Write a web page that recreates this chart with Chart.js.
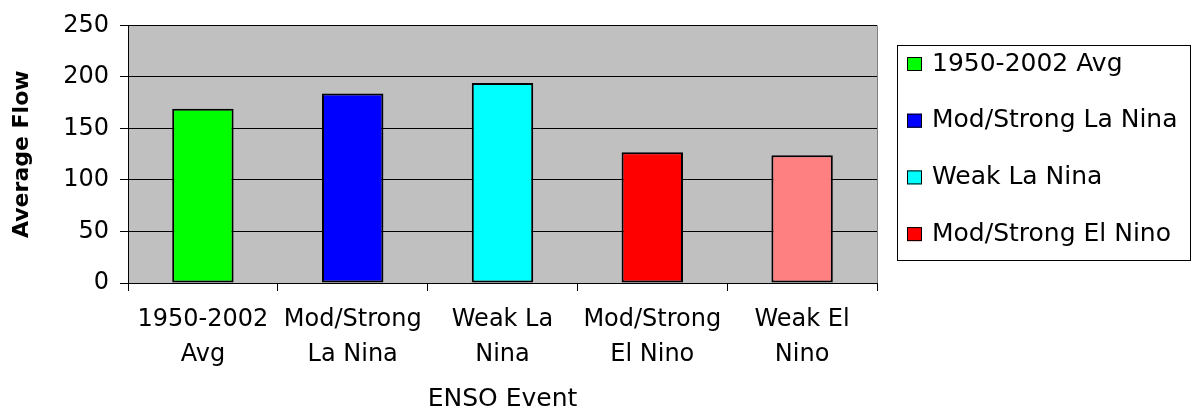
<!DOCTYPE html>
<html>
<head>
<meta charset="utf-8">
<script src="https://cdn.jsdelivr.net/npm/chart.js@4.4.0/dist/chart.umd.min.js"></script>
<style>
  html, body { margin: 0; padding: 0; background: #fff; }
  #wrap { width: 1192px; height: 412px; }
</style>
</head>
<body>
<div id="wrap"><canvas id="g_enso"></canvas></div>
<script>
// categorias e valores
const categories = [
  ['1950-2002', 'Avg'],
  ['Mod/Strong', 'La Nina'],
  ['Weak La', 'Nina'],
  ['Mod/Strong', 'El Nino'],
  ['Weak El', 'Nino']
];
const legendNames = ['1950-2002 Avg', 'Mod/Strong La Nina', 'Weak La Nina', 'Mod/Strong El Nino', 'Weak El Nino'];
const flows = [169, 184, 194, 127, 124];
const barColors = ['#00ff00', '#0000ff', '#00ffff', '#ff0000', '#ff8080'];
const yTicks = [0, 50, 100, 150, 200, 250];

const FONT = "'DejaVu Sans', sans-serif";

// fundo cinza da área do gráfico
const plotBg = {
  id: 'plotBg',
  beforeDraw(chart) {
    const { ctx, chartArea: a } = chart;
    ctx.save();
    ctx.fillStyle = '#c0c0c0';
    ctx.fillRect(a.left, a.top, a.right - a.left, a.bottom - a.top);
    ctx.strokeStyle = '#808080';
    ctx.lineWidth = 1;
    ctx.beginPath();
    ctx.moveTo(a.right + 0.5, a.top);
    ctx.lineTo(a.right + 0.5, a.bottom);
    ctx.stroke();
    ctx.restore();
  }
};

// legenda com caixa (estilo Excel), cortada na borda da caixa
const boxLegend = {
  id: 'boxLegend',
  afterDraw(chart) {
    const ctx = chart.ctx;
    const x = 897, y = 45, w = 293, h = 215;
    ctx.save();
    ctx.fillStyle = '#fff';
    ctx.fillRect(x, y, w, h);
    ctx.strokeStyle = '#000';
    ctx.lineWidth = 1;
    ctx.strokeRect(x + 0.5, y + 0.5, w, h);
    ctx.beginPath();
    ctx.rect(x + 1, y + 1, w - 1, h - 1);
    ctx.clip();
    ctx.font = '25px ' + FONT;
    ctx.textBaseline = 'middle';
    legendNames.forEach((name, i) => {
      const cy = 64 + i * 56.7;
      ctx.fillStyle = barColors[i];
      ctx.fillRect(907, cy - 7, 15, 14);
      ctx.strokeStyle = '#000';
      ctx.strokeRect(907.5, cy - 6.5, 14, 13);
      ctx.fillStyle = '#000';
      ctx.fillText(name, 932, cy);
    });
    ctx.restore();
  }
};

const ctx = document.getElementById('g_enso').getContext('2d');
const g_enso = new Chart(ctx, {
  type: 'bar',
  data: {
    labels: categories,
    datasets: [{
      label: 'Average Flow',
      data: flows,
      backgroundColor: barColors,
      borderColor: '#000',
      borderWidth: 2,
      borderSkipped: false,
      categoryPercentage: 1,
      barPercentage: 0.41
    }]
  },
  options: {
    responsive: true,
    maintainAspectRatio: false,
    animation: false,
    layout: { padding: { top: 22, right: 315, left: 0, bottom: 0 } },
    plugins: {
      legend: { display: false },
      tooltip: { enabled: false }
    },
    scales: {
      y: {
        min: 0,
        max: 250,
        afterBuildTicks(scale) { scale.ticks = yTicks.map(v => ({ value: v })); },
        afterFit(scale) { scale.width = 128; },
        border: { color: '#000', width: 1 },
        grid: { color: '#000', lineWidth: 1, tickLength: 8, tickColor: '#000' },
        ticks: { color: '#000', font: { family: FONT, size: 24 }, padding: 11 },
        title: {
          display: true,
          text: 'Average Flow',
          color: '#000',
          font: { family: FONT, size: 22, weight: 'bold', lineHeight: 1.1 },
          padding: { top: 10, bottom: 0 }
        }
      },
      x: {
        afterFit(scale) { scale.height = 129; },
        border: { color: '#000', width: 1 },
        grid: { offset: true, drawOnChartArea: false, tickLength: 8, tickColor: '#000' },
        ticks: { color: '#000', maxRotation: 0, autoSkip: false, font: { family: FONT, size: 24, lineHeight: 1.46 }, padding: 11 },
        title: {
          display: true,
          text: 'ENSO Event',
          color: '#000',
          font: { family: FONT, size: 25, lineHeight: 1 },
          padding: { top: 4, bottom: 0 }
        }
      }
    }
  },
  plugins: [plotBg, boxLegend]
});
</script>
</body>
</html>
